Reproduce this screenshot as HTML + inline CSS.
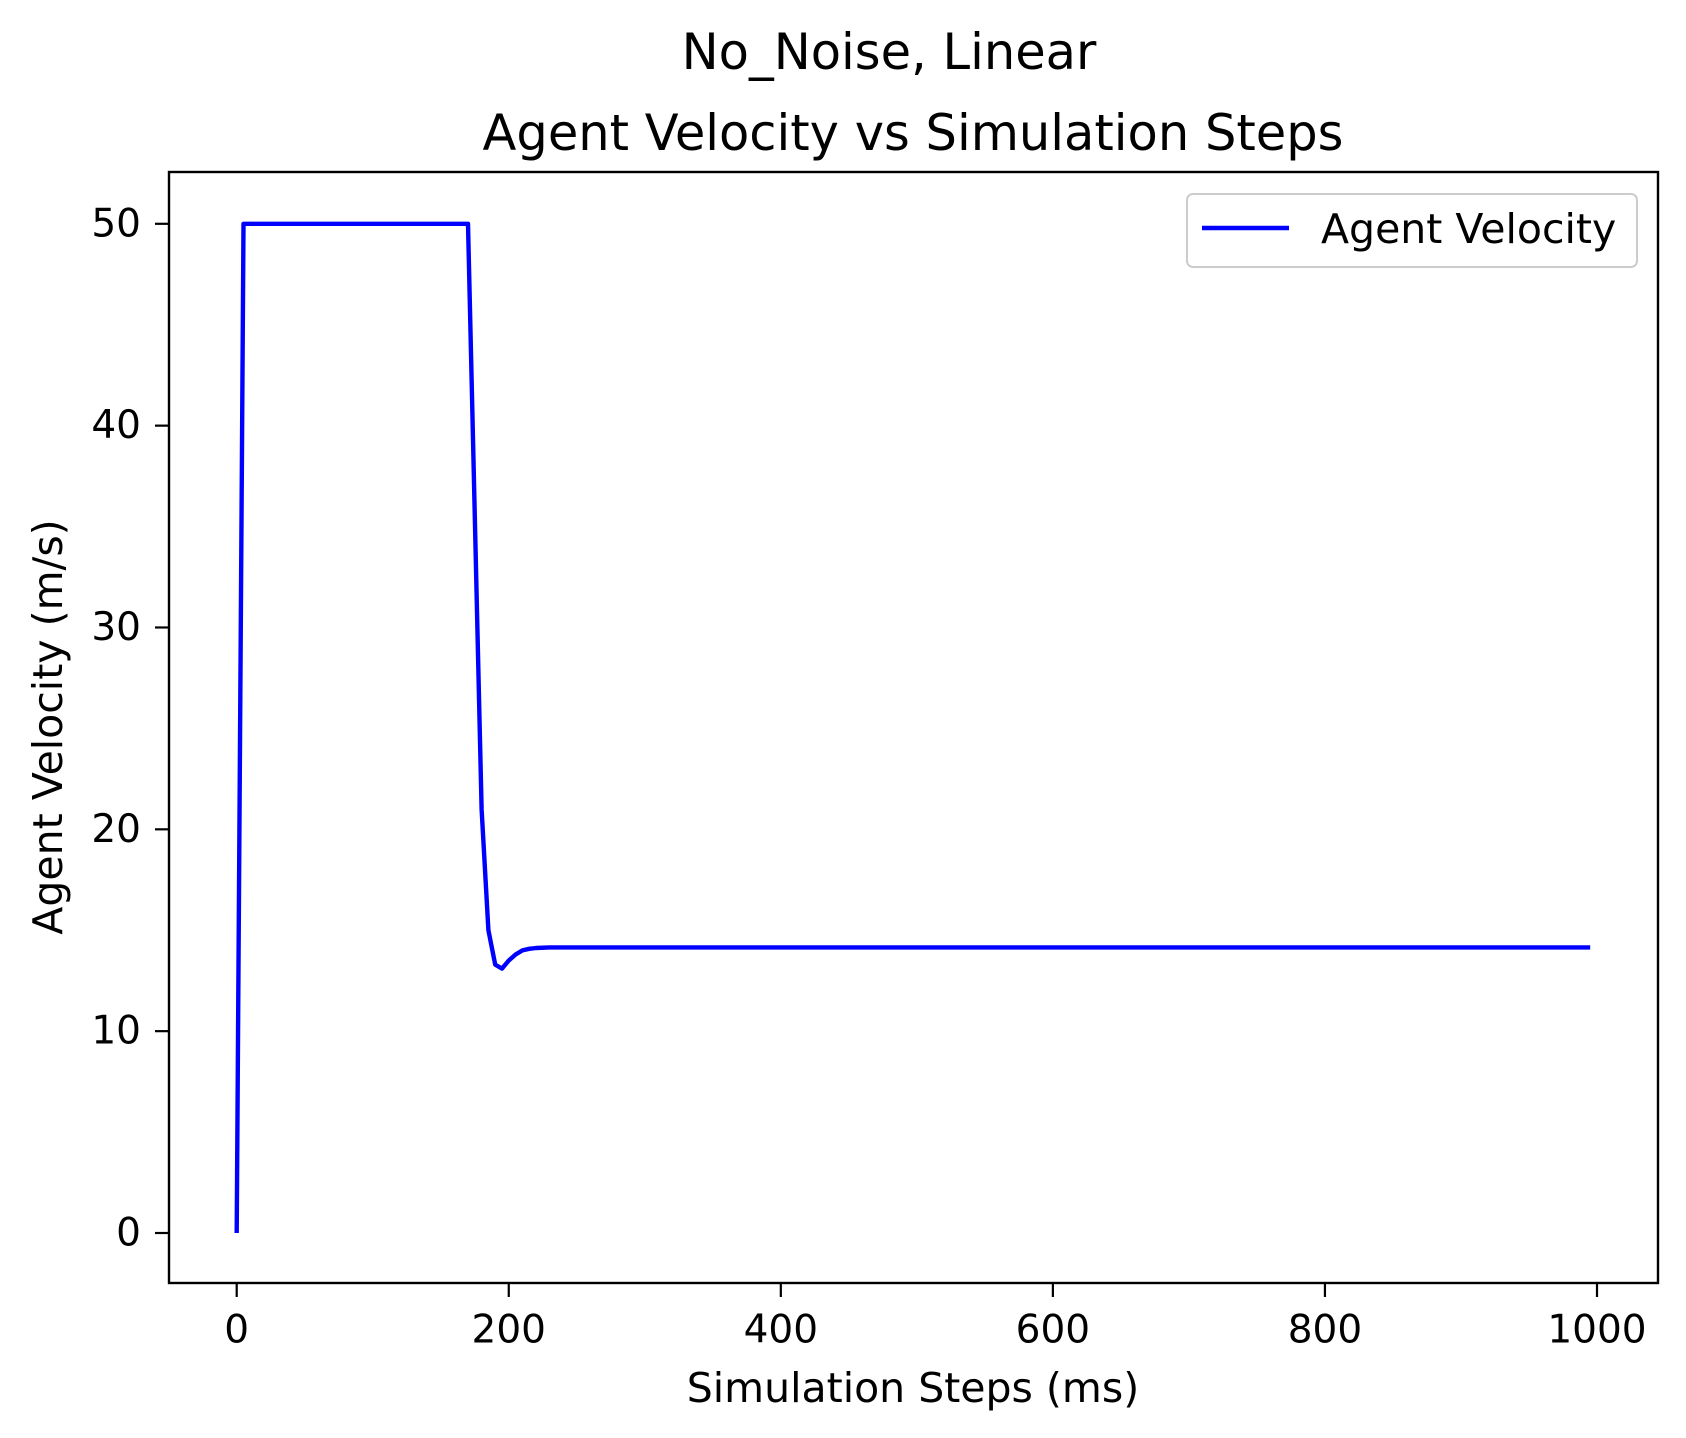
<!DOCTYPE html>
<html><head><meta charset="utf-8"><style>
html,body{margin:0;padding:0;background:#fff;}
svg{display:block;}
text{font-family:"DejaVu Sans","Liberation Sans",sans-serif;fill:#000;}
</style></head><body>
<svg id="chart" width="1686" height="1438" viewBox="0 0 1686 1438" xmlns="http://www.w3.org/2000/svg">
<rect width="1686" height="1438" fill="#fff"/>
<text x="889" y="52" font-size="49.5" text-anchor="middle" dominant-baseline="central">No_Noise, Linear</text>
<text x="913" y="133" font-size="49.5" text-anchor="middle" dominant-baseline="central">Agent Velocity vs Simulation Steps</text>
<text x="913" y="1388" font-size="41" text-anchor="middle" dominant-baseline="central">Simulation Steps (ms)</text>
<text x="48" y="727" font-size="41" text-anchor="middle" dominant-baseline="central" transform="rotate(-90 48 727)">Agent Velocity (m/s)</text>
<g id="xticks"></g><g id="yticks"></g>
<path id="series" fill="none" stroke="#0000ff" stroke-width="4.4" stroke-linejoin="round"/>
<rect x="169" y="172" width="1489" height="1111" fill="none" stroke="#000" stroke-width="2.4"/>
<g>
<rect x="1187" y="194" width="450" height="73" rx="6" fill="#fff" stroke="#ccc" stroke-width="2"/>
<line x1="1202" y1="228" x2="1289" y2="228" stroke="#0000ff" stroke-width="4.4"/>
<text x="1321" y="229" font-size="41" dominant-baseline="central">Agent Velocity</text>
</g>
</svg>
<script>
const steps = [0,5,10,20,50,100,150,170,175,180,185,190,195,200,205,210,215,220,230,240,300,500,800,995];
const velocity = [0,50,50,50,50,50,50,50,35.5,21,15,13.3,13.1,13.5,13.8,14.0,14.08,14.12,14.15,14.15,14.15,14.15,14.15,14.15];
const xTicks = [0,200,400,600,800,1000];
const yTicks = [0,10,20,30,40,50];
const xs = v => 236.7 + v * (1597 - 236.7) / 1000;
const ys = v => 1233 - v * (1233 - 223.8) / 50;
const NS = "http://www.w3.org/2000/svg";
document.getElementById('series').setAttribute('d', steps.map((s,i)=>(i?'L':'M')+xs(s).toFixed(1)+' '+ys(velocity[i]).toFixed(1)).join(' '));
const xg = document.getElementById('xticks');
xTicks.forEach(t=>{
  const l=document.createElementNS(NS,'line');
  
  
  l.setAttribute('x1',xs(t));l.setAttribute('x2',xs(t));l.setAttribute('y1',1283);l.setAttribute('y2',1297);
  l.setAttribute('stroke','#000');l.setAttribute('stroke-width','2.2');xg.appendChild(l);
  const tx=document.createElementNS(NS,'text');
  
  
  tx.setAttribute('x',xs(t));tx.setAttribute('y',1330);tx.setAttribute('font-size','39');
  tx.setAttribute('text-anchor','middle');tx.setAttribute('dominant-baseline','central');
  tx.textContent=t;xg.appendChild(tx);
});
const yg = document.getElementById('yticks');
yTicks.forEach(t=>{
  const l=document.createElementNS(NS,'line');
  
  
  l.setAttribute('x1',155);l.setAttribute('x2',169);l.setAttribute('y1',ys(t));l.setAttribute('y2',ys(t));
  l.setAttribute('stroke','#000');l.setAttribute('stroke-width','2.2');yg.appendChild(l);
  const tx=document.createElementNS(NS,'text');
  
  
  tx.setAttribute('x',141);tx.setAttribute('y',ys(t));tx.setAttribute('font-size','39');
  tx.setAttribute('text-anchor','end');tx.setAttribute('dominant-baseline','central');
  tx.textContent=t;yg.appendChild(tx);
});
</script>
</body></html>
